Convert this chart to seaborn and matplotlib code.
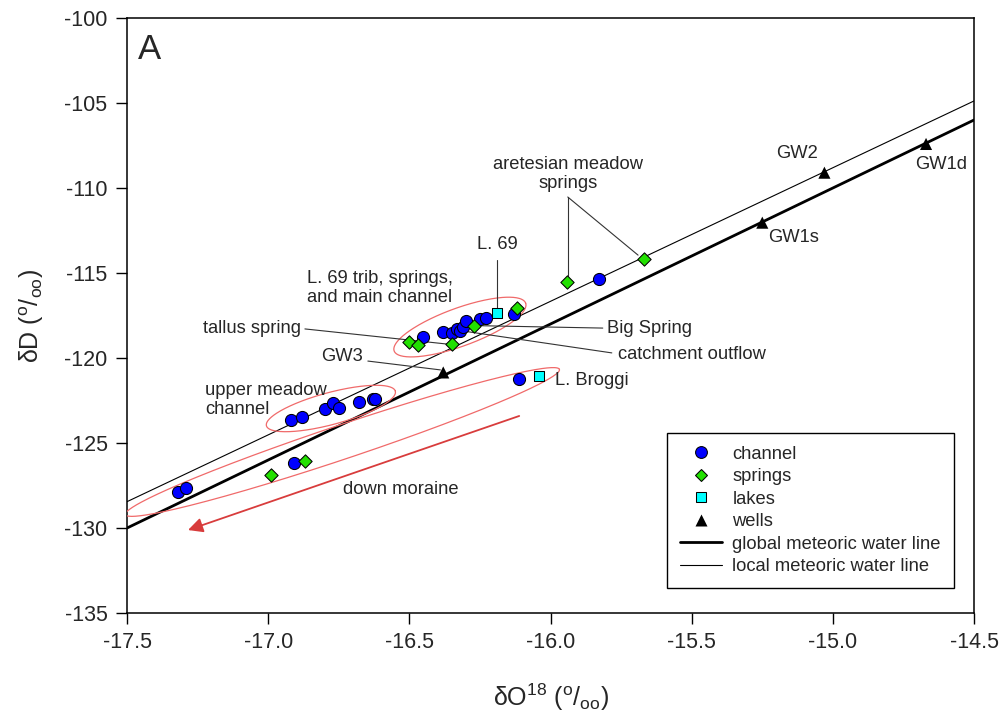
import numpy as np
import matplotlib
matplotlib.use("Agg")
import matplotlib.pyplot as plt
from matplotlib.lines import Line2D
import seaborn as sns

# isotope data (delta O-18, delta D, per mil)
channel_o18 = [-17.32, -17.29, -16.91, -16.92, -16.88, -16.80, -16.77, -16.75,
               -16.68, -16.63, -16.62, -16.45, -16.38, -16.35, -16.33, -16.32,
               -16.31, -16.30, -16.25, -16.23, -16.13, -16.11, -15.83]
channel_dD = [-127.86, -127.66, -126.16, -123.65, -123.45, -123.02, -122.66, -122.96,
              -122.57, -122.43, -122.39, -118.75, -118.45, -118.51, -118.31, -118.39,
              -118.19, -117.80, -117.72, -117.67, -117.41, -121.25, -115.37]

springs_o18 = [-16.99, -16.87, -16.50, -16.47, -16.35, -16.27, -16.12, -15.94, -15.67]
springs_dD = [-126.88, -126.08, -119.04, -119.24, -119.20, -118.12, -117.08, -115.51, -114.19]

lakes_o18 = [-16.19, -16.04]
lakes_dD = [-117.37, -121.06]

wells_o18 = [-16.38, -15.25, -15.03, -14.67]
wells_dD = [-120.85, -112.04, -109.10, -107.41]

# meteoric water lines, end points read at the axis edges
mwl_o18 = [-17.5, -14.5]
gmwl_dD = [-130.0, -106.0]
lmwl_dD = [-128.45, -104.88]

x_ticks = np.arange(-17.5, -14.49, 0.5)
y_ticks = np.arange(-135, -99, 5)

sns.set_theme(style="ticks")
plt.rcParams['font.family'] = ['Liberation Sans', 'DejaVu Sans']
plt.rcParams['mathtext.fontset'] = 'custom'
plt.rcParams['mathtext.rm'] = 'Liberation Sans'
plt.rcParams['axes.unicode_minus'] = False

fig = plt.figure(figsize=(10.05, 7.19), dpi=100)
ax = fig.add_axes([0.1264, 0.1474, 0.8428, 0.8276])

# water lines
sns.lineplot(x=mwl_o18, y=gmwl_dD, color='black', linewidth=2.0, ax=ax, zorder=2)
sns.lineplot(x=mwl_o18, y=lmwl_dD, color='black', linewidth=0.8, ax=ax, zorder=2)

# grouping ellipses (center, half major vector, half minor vector)
ellipses = [
    ((-16.321, -118.18), (0.2329, 1.406), (0.0230, -1.053)),
    ((-16.778, -122.97), (0.2283, 1.018), (0.0146, -0.910)),
    ((-16.737, -124.94), (0.7685, 4.271), (0.0190, -0.950)),
]
t = np.linspace(0, 2 * np.pi, 300)
for (cx, cy), (ux, uy), (vx, vy) in ellipses:
    ax.plot(cx + ux * np.cos(t) + vx * np.sin(t),
            cy + uy * np.cos(t) + vy * np.sin(t),
            color='#f06a6a', linewidth=0.9, zorder=3)

# down moraine arrow
ax.annotate('', xy=(-17.284, -130.12), xytext=(-16.111, -123.41),
            arrowprops=dict(arrowstyle='-|>', color='#d83c3c', lw=1.3,
                            mutation_scale=22, shrinkA=0, shrinkB=0), zorder=3)

# leader lines
leaders = [
    ((-15.939, -110.53), (-15.939, -115.2)),
    ((-15.939, -110.53), (-15.69, -113.95)),
    ((-16.190, -114.24), (-16.190, -117.06)),
    ((-16.870, -118.29), (-16.355, -119.20)),
    ((-16.647, -120.18), (-16.39, -120.70)),
    ((-15.815, -118.24), (-16.25, -118.10)),
    ((-15.783, -119.70), (-16.311, -118.41)),
]
for (x0, y0), (x1, y1) in leaders:
    ax.plot([x0, x1], [y0, y1], color='#333333', linewidth=0.8, zorder=3)

mk = dict(edgecolor='black', linewidth=0.75, legend=False, ax=ax, zorder=5)
sns.scatterplot(x=channel_o18, y=channel_dD, marker='o', color='#0000ff', s=76, **mk)
sns.scatterplot(x=springs_o18, y=springs_dD, marker='D', color='#22e000', s=46, **mk)
sns.scatterplot(x=lakes_o18, y=lakes_dD, marker='s', color='#00ffff', s=54, **mk)
sns.scatterplot(x=wells_o18, y=wells_dD, marker='^', color='black', s=76,
                edgecolor='none', legend=False, ax=ax, zorder=5)

# labels
fs = 13.2
ax.text(-15.939, -109.18, 'aretesian meadow\nsprings', ha='center', va='center',
        fontsize=fs, linespacing=1.15)
ax.text(-16.190, -113.35, 'L. 69', ha='center', va='center', fontsize=fs)
ax.text(-16.862, -115.88, 'L. 69 trib, springs,\nand main channel', ha='left',
        va='center', fontsize=fs, linespacing=1.15)
ax.text(-16.884, -118.27, 'tallus spring', ha='right', va='center', fontsize=fs)
ax.text(-16.665, -119.94, 'GW3', ha='right', va='center', fontsize=fs)
ax.text(-15.799, -118.27, 'Big Spring', ha='left', va='center', fontsize=fs)
ax.text(-15.760, -119.81, 'catchment outflow', ha='left', va='center', fontsize=fs)
ax.text(-17.224, -122.47, 'upper meadow\nchannel', ha='left', va='center',
        fontsize=fs, linespacing=1.15)
ax.text(-16.735, -127.76, 'down moraine', ha='left', va='center', fontsize=fs)
ax.text(-15.985, -121.35, 'L. Broggi', ha='left', va='center', fontsize=fs)
ax.text(-15.128, -108.0, 'GW2', ha='center', va='center', fontsize=fs)
ax.text(-14.707, -108.59, 'GW1d', ha='left', va='center', fontsize=fs)
ax.text(-15.231, -112.94, 'GW1s', ha='left', va='center', fontsize=fs)
ax.text(0.013, 0.975, 'A', transform=ax.transAxes, ha='left', va='top', fontsize=25)

ax.set_xlim(-17.5, -14.5)
ax.set_ylim(-135, -100)
ax.set_xticks(x_ticks)
ax.set_xticklabels([f"{v:.1f}" for v in x_ticks])
ax.set_yticks(y_ticks)
ax.set_yticklabels([f"{v:d}" for v in y_ticks])
ax.tick_params(direction='out', length=8, width=1, labelsize=15.5, pad=6, color='black')
for sp in ax.spines.values():
    sp.set_color('black')
    sp.set_linewidth(1.1)

ax.set_xlabel(r'δO$\mathregular{^{18}}$ ($\mathregular{^{o}/_{oo}}$)', fontsize=18, labelpad=20)
ax.set_ylabel(r'δD ($\mathregular{^{o}/_{oo}}$)', fontsize=18, labelpad=13)

handles = [
    Line2D([], [], ls='none', marker='o', ms=8.5, mfc='#0000ff', mec='black', mew=0.75),
    Line2D([], [], ls='none', marker='D', ms=6.6, mfc='#22e000', mec='black', mew=0.75),
    Line2D([], [], ls='none', marker='s', ms=7.3, mfc='#00ffff', mec='black', mew=0.75),
    Line2D([], [], ls='none', marker='^', ms=8.7, mfc='black', mec='none'),
    Line2D([], [], color='black', lw=2.0),
    Line2D([], [], color='black', lw=0.8),
]
labels = ['channel', 'springs', 'lakes', 'wells',
          'global meteoric water line', 'local meteoric water line']
leg = ax.legend(handles, labels, loc='lower right', bbox_to_anchor=(0.976, 0.042),
                fontsize=fs, frameon=True, fancybox=False, framealpha=1,
                edgecolor='black', borderpad=0.7, handlelength=2.3,
                handletextpad=0.55, labelspacing=0.30, borderaxespad=0)
leg.get_frame().set_linewidth(1.0)

fig.savefig('out.png', dpi=100)
